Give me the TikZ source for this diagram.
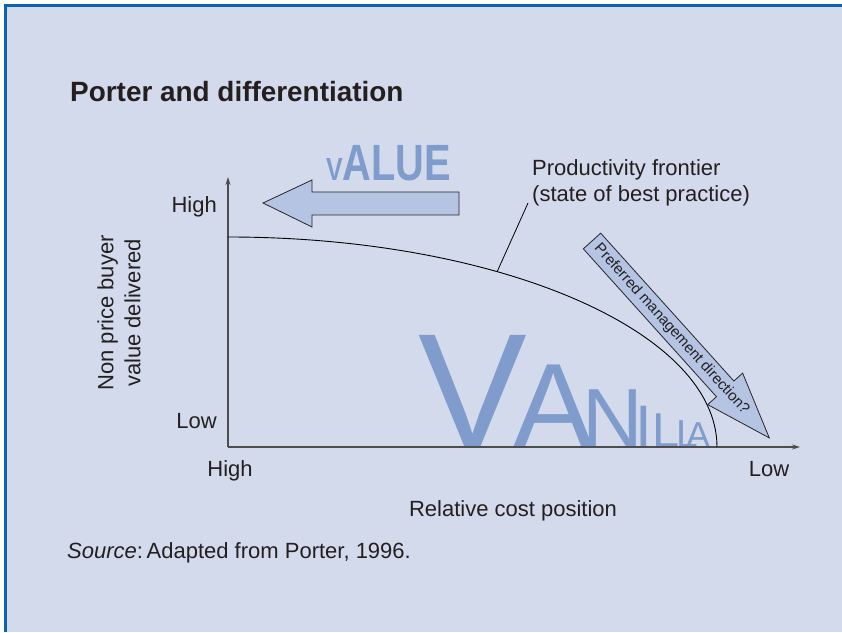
\documentclass[tikz,border=0pt]{standalone}
\usepackage{fontspec}
\usepackage{graphicx}
\setmainfont{Liberation Sans}
\usetikzlibrary{arrows.meta}
\definecolor{bgc}{HTML}{D3DAEC}
\definecolor{bordc}{HTML}{0B63B5}
\definecolor{arrfill}{HTML}{B5C4E3}
\definecolor{letc}{HTML}{809CCC}
\definecolor{txtc}{HTML}{231F20}
\definecolor{axc}{HTML}{4D4D4D}
\tikzset{
  lbl/.style={inner sep=0pt, text=txtc, font=\fontsize{22}{27}\selectfont},
  bigletter/.style={inner sep=0pt, anchor=base west, text=letc},
  axis/.style={draw=axc, line width=1.2pt, -{Stealth[length=8pt,width=5pt]}},
  shapearrow/.style={draw=black!85, line width=0.8pt, fill=arrfill, line join=miter}
}
\begin{document}
\begin{tikzpicture}[x=1pt,y=1pt]
\useasboundingbox (0,0) rectangle (842,632);
\fill[white] (0,0) rectangle (842,632);
\fill[bgc] (5.5,0) rectangle (842,626.5);
\draw[bordc, line width=3pt] (5.5,0) -- (5.5,626.5) -- (842,626.5);

% title
\node[lbl, anchor=base west, font=\bfseries\fontsize{27.9}{30}\selectfont] (title) at (70,530) {Porter and differentiation};

% VALUE arrow
\draw[shapearrow] (263,429) -- (312,452) -- (312,440) -- (459,440) -- (459,417) -- (312,417) -- (312,405) -- cycle;
\node[inner sep=0pt, anchor=base west, text=letc, font=\bfseries] (value) at (326,451)
  {\scalebox{0.78}[1]{{\fontsize{32}{32}\selectfont V}{\fontsize{51}{51}\selectfont ALUE}}};

% VANILLA
\node[bigletter, font=\fontsize{163}{163}\selectfont] (v1) at (418,185) {V};
\node[bigletter, font=\fontsize{120}{120}\selectfont] (a1) at (513,185) {A};
\node[bigletter, font=\fontsize{84}{84}\selectfont] (n1) at (582,185) {N};
\node[bigletter, font=\fontsize{60}{60}\selectfont] (i1) at (635,185) {I};
\node[bigletter, font=\fontsize{49}{49}\selectfont] (l1) at (652,185) {L};
\node[bigletter, font=\fontsize{39}{39}\selectfont] (l2) at (676,185) {L};
\node[bigletter, font=\fontsize{36}{36}\selectfont] (a2) at (686,185) {A};

% axes
\coordinate (origin) at (228,185);
\coordinate (ytip) at (228,455);
\coordinate (xtip) at (800,185);
\draw[axis] (origin) -- (ytip);
\draw[axis] (origin) -- (xtip);

% frontier
\draw[black, line width=0.9pt] (228,395) arc[start angle=90, end angle=0, x radius=489, y radius=210];

% preferred direction arrow
\begin{scope}[shift={(592,391)}, rotate=-48]
  \draw[shapearrow] (0,11.7) -- (199,11.7) -- (199,23.5) -- (265,0) -- (199,-23.5) -- (199,-11.7) -- (0,-11.7) -- cycle;
  \node[transform shape, inner sep=0pt, text=txtc, font=\fontsize{15}{16}\selectfont] (pref) at (119,0) {Preferred management direction?};
\end{scope}

% labels
\node[lbl, anchor=base east] (yhigh) at (217,419) {High};
\node[lbl, anchor=base east] (ylow) at (217,204) {Low};
\node[lbl, anchor=base] (xhigh) at (230,156) {High};
\node[lbl, anchor=base] (xlow) at (769,156) {Low};
\node[lbl, anchor=base] (xlabel) at (513,116) {Relative cost position};
\node[lbl, rotate=90, align=center] (ylabel) at (119,319) {Non price buyer\\value delivered};
\node[lbl, anchor=base west] (pfl1) at (532,456) {Productivity frontier};
\node[lbl, anchor=base west] (pfl2) at (532,430) {(state of best practice)};
\node[lbl, anchor=base west] (source) at (67,74) {\textit{Source}:\,Adapted from Porter, 1996.};

% pointer
\coordinate (pfa) at (528,429);
\coordinate (pfb) at (497,360);
\draw[black, line width=0.8pt] (pfa) -- (pfb);
\end{tikzpicture}
\end{document}
